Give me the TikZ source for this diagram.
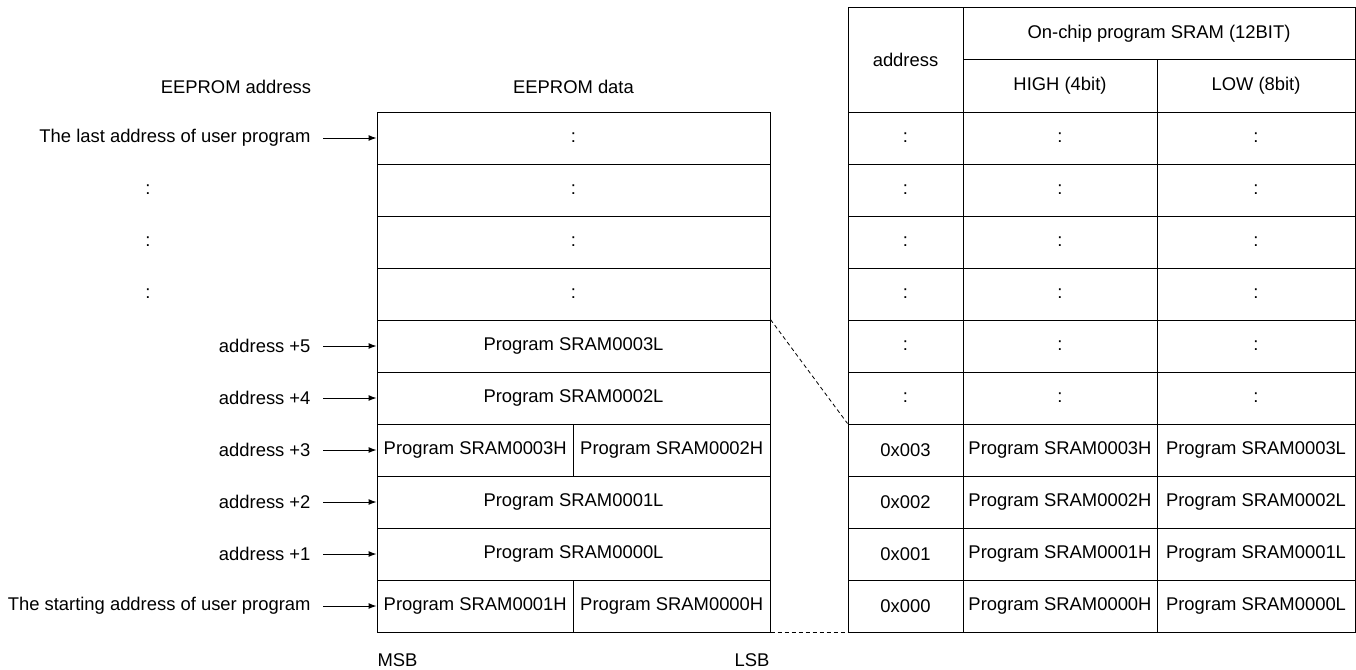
\documentclass[tikz,border=0pt]{standalone}
\usepackage{fontspec}
\setmainfont{Liberation Sans}
\usetikzlibrary{arrows.meta}
\begin{document}
\begin{tikzpicture}[x=1pt,y=-1pt,font=\fontsize{18.4}{21}\selectfont,line width=1pt,
  cell/.style={draw,inner sep=0pt,minimum height=52pt},
  full/.style={cell,minimum width=393pt},
  half/.style={cell,minimum width=196.5pt},
  ca/.style={cell,minimum width=115pt},
  ch/.style={cell,minimum width=194pt},
  cl/.style={cell,minimum width=198pt},
  lbl/.style={anchor=east,inner sep=0pt},
  ptr/.style={-{Latex[length=8pt,width=6pt]},line width=1pt},
  conn/.style={dashed,line width=0.8pt,dash pattern=on 4pt off 3pt}]
\useasboundingbox (0,0) rectangle (1356,669);
% titles
\node (tAddr) at (236,87) {EEPROM address};
\node (tData) at (573.5,87) {EEPROM data};
% left table
\node[full] (e0) at (573.5,138) {:};
\node[full] (e1) at (573.5,190) {:};
\node[full] (e2) at (573.5,242) {:};
\node[full] (e3) at (573.5,294) {:};
\node[full] (e4) at (573.5,346) {Program SRAM0003L};
\node[full] (e5) at (573.5,398) {Program SRAM0002L};
\node[half] (e6a) at (475.25,450) {Program SRAM0003H};
\node[half] (e6b) at (671.75,450) {Program SRAM0002H};
\node[full] (e7) at (573.5,502) {Program SRAM0001L};
\node[full] (e8) at (573.5,554) {Program SRAM0000L};
\node[half] (e9a) at (475.25,606) {Program SRAM0001H};
\node[half] (e9b) at (671.75,606) {Program SRAM0000H};
% left labels
\node[lbl] (l0) at (311,138) {The last address of user program};
\node (l1) at (148,190) {:};
\node (l2) at (148,242) {:};
\node (l3) at (148,294) {:};
\node[lbl] (l4) at (311,346) {address +5};
\node[lbl] (l5) at (311,398) {address +4};
\node[lbl] (l6) at (311,450) {address +3};
\node[lbl] (l7) at (311,502) {address +2};
\node[lbl] (l8) at (311,554) {address +1};
\node[lbl] (l9) at (311,606) {The starting address of user program};
\foreach \s/\t in {l0/e0,l4/e4,l5/e5,l6/e6a,l7/e7,l8/e8,l9/e9a}
  \draw[ptr] ([xshift=12pt]\s.east) -- (\t.west);
\node[anchor=west,inner sep=0pt] (msb) at (377,660) {MSB};
\node[anchor=east,inner sep=0pt] (lsb) at (770,660) {LSB};
% right table header
\node[cell,minimum width=115pt,minimum height=104pt] (hA) at (905.5,60) {address};
\node[cell,minimum width=392pt] (hS) at (1159,34) {On-chip program SRAM (12BIT)};
\node[ch] (hH) at (1060,86) {HIGH (4bit)};
\node[cl] (hL) at (1256,86) {LOW (8bit)};
% right table rows
\foreach \i/\y in {0/138,1/190,2/242,3/294,4/346,5/398}{
  \node[ca] (r\i a) at (905.5,\y) {:};
  \node[ch] (r\i h) at (1060,\y) {:};
  \node[cl] (r\i l) at (1256,\y) {:};
}
\node[ca] (r6a) at (905.5,450) {0x003};
\node[ch] (r6h) at (1060,450) {Program SRAM0003H};
\node[cl] (r6l) at (1256,450) {Program SRAM0003L};
\node[ca] (r7a) at (905.5,502) {0x002};
\node[ch] (r7h) at (1060,502) {Program SRAM0002H};
\node[cl] (r7l) at (1256,502) {Program SRAM0002L};
\node[ca] (r8a) at (905.5,554) {0x001};
\node[ch] (r8h) at (1060,554) {Program SRAM0001H};
\node[cl] (r8l) at (1256,554) {Program SRAM0001L};
\node[ca] (r9a) at (905.5,606) {0x000};
\node[ch] (r9h) at (1060,606) {Program SRAM0000H};
\node[cl] (r9l) at (1256,606) {Program SRAM0000L};
% dashed connectors
\draw[conn] (e4.north east) -- (r6a.north west);
\draw[conn] (e9b.south east) -- (r9a.south west);
\end{tikzpicture}
\end{document}
